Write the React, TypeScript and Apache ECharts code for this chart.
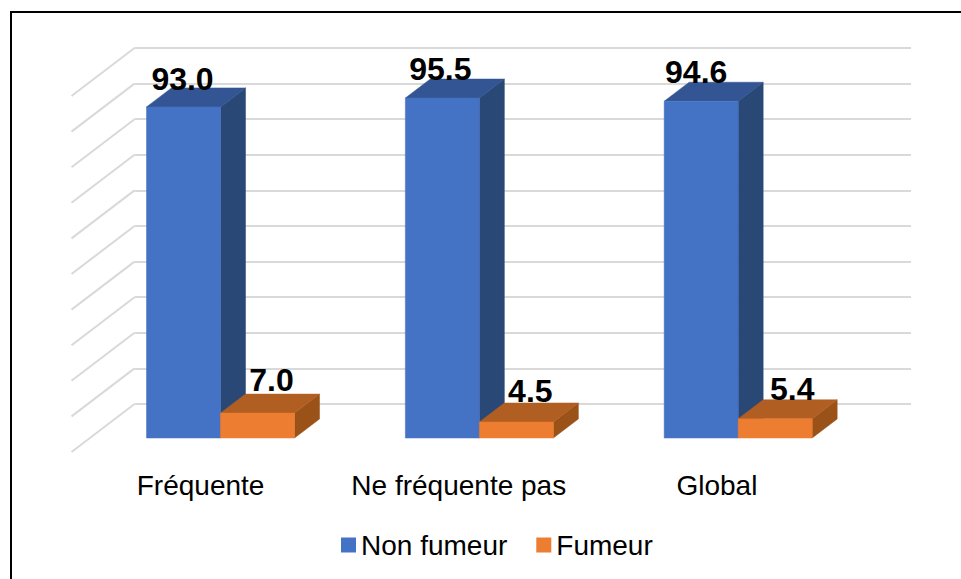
import React, { useEffect, useRef } from "react";
import * as echarts from "echarts";

const categories = ["Fréquente", "Ne fréquente pas", "Global"];
const nonFumeur = [93.0, 95.5, 94.6];
const fumeur = [7.0, 4.5, 5.4];
const wallTicks = [0, 10, 20, 30, 40, 50, 60, 70, 80, 90, 100];

// Projection: pixels from back wall to the front of the bars / of the floor.
const FRONT = { dx: -43.4, dy: 34 };
const DEPTH = { dx: 25, dy: -19 };
const FLOOR = { dx: -63, dy: 48 };
const BAR_W = 74;
const FONT = "'Liberation Sans', Arial, sans-serif";
const nonFumeurLabelShift = [[-1, -28], [-2, -29], [-5, -29]];
const fumeurLabelShift = [[14, -33], [14, -31], [17, -30]];

function barRenderer(slot: number, colors: string[], shifts: number[][]) {
  return (params: any, api: any) => {
    const i = api.value(0);
    const v = api.value(1);
    const top = api.coord([i, v]);
    const base = api.coord([i, 0]);
    const x0 = top[0] + FRONT.dx - BAR_W + slot * BAR_W;
    const x1 = x0 + BAR_W;
    const yt = top[1] + FRONT.dy;
    const yb = base[1] + FRONT.dy;
    const { dx, dy } = DEPTH;
    const poly = (points: number[][], fill: string) => ({
      type: "polygon",
      shape: { points },
      style: { fill, stroke: fill, lineWidth: 0.5 },
    });
    return {
      type: "group",
      children: [
        poly([[x1, yt], [x1 + dx, yt + dy], [x1 + dx, yb + dy], [x1, yb]], colors[2]),
        poly([[x0, yt], [x0 + dx, yt + dy], [x1 + dx, yt + dy], [x1, yt]], colors[1]),
        poly([[x0, yt], [x1, yt], [x1, yb], [x0, yb]], colors[0]),
        {
          type: "text",
          z2: 10,
          x: (x0 + x1) / 2 + shifts[i][0],
          y: yt + shifts[i][1],
          style: {
            text: v.toFixed(1),
            font: `bold 32px ${FONT}`,
            fill: "#000",
            align: "center",
            verticalAlign: "middle",
          },
        },
      ],
    };
  };
}

function wallRenderer(params: any, api: any) {
  const v = api.value(0);
  const p = api.coord([0, v]);
  const x = p[0] - api.size([1, 0])[0] / 2;
  return {
    type: "line",
    shape: { x1: x, y1: p[1], x2: x + FLOOR.dx, y2: p[1] + FLOOR.dy },
    style: { stroke: "#D9D9D9", lineWidth: 2, fill: "none" },
  };
}

export default function App() {
  const ref = useRef<HTMLDivElement>(null);
  useEffect(() => {
    document.body.style.margin = "0";
    const chart = echarts.init(ref.current!, undefined, { renderer: "svg" });
    chart.setOption({
      animation: false,
      backgroundColor: "#fff",
      textStyle: { fontFamily: FONT },
      grid: [
        { left: 134.5, right: 50, top: 48, height: 356 },
        { left: 71.5, right: 115, top: 96, height: 356 },
      ],
      xAxis: [
        {
          type: "category",
          gridIndex: 0,
          data: categories,
          axisLine: { show: false },
          axisTick: { show: false },
          axisLabel: { show: false },
        },
        {
          type: "category",
          gridIndex: 1,
          data: categories,
          axisLine: { show: false },
          axisTick: { show: false },
          axisLabel: { color: "#000", fontSize: 28, margin: 19, interval: 0, hideOverlap: false, fontFamily: FONT },
        },
      ],
      yAxis: [
        {
          type: "value",
          gridIndex: 0,
          min: 0,
          max: 100,
          interval: 10,
          axisLine: { show: false },
          axisTick: { show: false },
          axisLabel: { show: false },
          splitLine: { lineStyle: { color: "#D9D9D9", width: 2 } },
        },
        {
          type: "value",
          gridIndex: 1,
          min: 0,
          max: 100,
          show: false,
          splitLine: { show: false },
        },
      ],
      legend: {
        left: 341,
        top: 531,
        padding: 0,
        itemWidth: 15,
        itemHeight: 15,
        itemGap: 29,
        icon: "rect",
        data: [
          { name: "Non fumeur", itemStyle: { color: "#4472C4" } },
          { name: "Fumeur", itemStyle: { color: "#ED7D31" } },
        ],
        textStyle: { fontSize: 28, color: "#000", fontFamily: FONT },
      },
      series: [
        {
          type: "custom",
          name: "walls",
          data: wallTicks.map((t) => [t]),
          encode: { y: 0 },
          silent: true,
          z: 1,
          renderItem: wallRenderer,
        },
        {
          type: "custom",
          name: "Non fumeur",
          data: nonFumeur.map((v, i) => [i, v]),
          encode: { x: 0, y: 1 },
          itemStyle: { color: "#4472C4" },
          z: 3,
          renderItem: barRenderer(0, ["#4472C4", "#335593", "#2A4876"], nonFumeurLabelShift),
        },
        {
          type: "custom",
          name: "Fumeur",
          data: fumeur.map((v, i) => [i, v]),
          encode: { x: 0, y: 1 },
          itemStyle: { color: "#ED7D31" },
          z: 4,
          renderItem: barRenderer(1, ["#ED7D31", "#B15E22", "#9A5219"], fumeurLabelShift),
        },
      ],
      graphic: [
        {
          type: "polyline",
          z: 100,
          silent: true,
          shape: { points: [[11, 579], [11, 12], [961, 12]] },
          style: { fill: "none", stroke: "#000", lineWidth: 2 },
        },
      ],
    });
    return () => chart.dispose();
  }, []);
  return <div ref={ref} style={{ width: 961, height: 579 }} />;
}
